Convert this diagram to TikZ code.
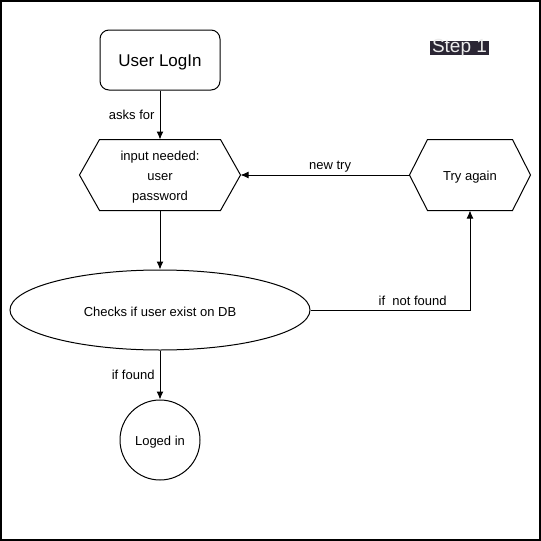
\documentclass[tikz,border=0pt]{standalone}
\usepackage{fontspec}
\setmainfont{Liberation Sans}
\usetikzlibrary{shapes.geometric,arrows.meta}
\definecolor{stepbg}{RGB}{43,38,52}
\definecolor{steptxt}{RGB}{236,236,236}

\begin{document}
\begin{tikzpicture}[x=1pt,y=-1pt,line width=1pt,>={Latex[length=8pt,width=7pt]},
  lbl/.style={font=\fontsize{13}{15}\selectfont,inner sep=2pt},
  box/.style={draw,rounded corners=9pt,minimum width=120pt,minimum height=60pt,font=\fontsize{17}{19}\selectfont},
  hexbox/.style={minimum height=70pt,inner sep=0pt,align=center,font=\fontsize{13}{20}\selectfont}]
\useasboundingbox (0,0) rectangle (541,541);
\draw[line width=1.6pt] (1,1) rectangle (540,540);
% step tag
\fill[stepbg] (430,41) rectangle (489,55);
\node[text=steptxt,font=\fontsize{19}{22}\selectfont,inner sep=0pt,anchor=base] (steplbl) at (459.5,52) {Step 1};
% shapes
\node[box] (login) at (160,60) {\raisebox{-6pt}[0pt][0pt]{User LogIn}};
\node[hexbox,minimum width=160pt] (input) at (160,175) {};
\node[hexbox] (inputtxt) at (160,177.5) {input needed:\\user\\password};
\draw (input.west) -- ([xshift=20pt]input.north west) -- ([xshift=-20pt]input.north east) -- (input.east) -- ([xshift=-20pt]input.south east) -- ([xshift=20pt]input.south west) -- cycle;
\node[hexbox,minimum width=120pt] (again) at (470,175) {\raisebox{-5.6pt}[0pt][0pt]{Try again}};
\draw (again.west) -- ([xshift=18pt]again.north west) -- ([xshift=-18pt]again.north east) -- (again.east) -- ([xshift=-18pt]again.south east) -- ([xshift=18pt]again.south west) -- cycle;
\node[draw,ellipse,minimum width=300pt,minimum height=80pt,inner sep=0pt,lbl] (check) at (160,310) {\raisebox{-6pt}[0pt][0pt]{Checks if user exist on DB}};
\node[draw,circle,minimum size=80pt,inner sep=0pt,lbl] (logged) at (160,440) {\raisebox{-5.6pt}[0pt][0pt]{Loged in}};
% arrows
\draw[->] (login.south) -- node[lbl,left,xshift=-3pt] (asks) {asks for} (input.north);
\draw[->] (input.south) -- (check.north);
\draw[->] (check.south) -- node[lbl,left,xshift=-3pt] (found) {if found} (logged.north);
\draw[->] (check.east) -| node[lbl,above,pos=0.32,yshift=2pt] (notfound) {if\ \ not found} (again.south);
\draw[->] (again.west) -- node[lbl,above,pos=0.47] (newtry) {new try} (input.east);
\end{tikzpicture}
\end{document}
